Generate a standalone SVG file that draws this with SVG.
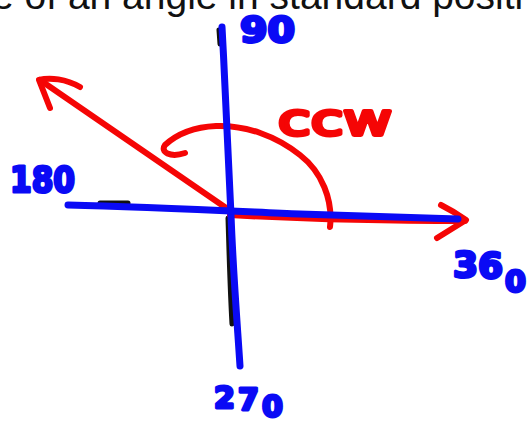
<svg xmlns="http://www.w3.org/2000/svg" width="531" height="425" viewBox="0 0 531 425">
<style>
.ink{fill:none;stroke-linecap:round;stroke-linejoin:round}
.blue{stroke:#0a0af5;stroke-width:7}
.red{stroke:#f50505;stroke-width:6}
.blk{stroke:#111;stroke-width:5}
.hb{font-family:"DejaVu Sans",sans-serif;font-weight:bold;fill:#0a0af5;stroke:#0a0af5;stroke-width:3;stroke-linejoin:round}
.hr{font-family:"DejaVu Sans",sans-serif;font-weight:normal;fill:#f50505;stroke:#f50505;stroke-width:4;stroke-linejoin:round}
.title{font-family:"Liberation Sans",Arial,sans-serif;font-size:39px;fill:#111}
</style>
<rect width="531" height="425" fill="#fff"/>
<text class="title" x="-8" y="9">e of an angle in standard positi</text>
<g id="connectors">
<g id="black-strokes">
<path class="ink blk" d="M219,30 L220,44"/>
<path class="ink blk" d="M228,218 C229,250 230,290 232,324"/>
<path class="ink blk" d="M100,203 L128,203"/>
</g>
<g id="red-rays">
<path class="ink red" d="M230,215 C300,219 400,221 465,221"/>
<path class="ink red" d="M441,205 C451,210 459,215 466,220 L437,238"/>
<path class="ink red" d="M232,212 L40,80"/>
<path class="ink red" d="M80,87 C66,79 50,77 39,80 L50,108"/>
<path id="ccw-arc" class="ink red" d="M330,227 C333,200 322,172 300,155 C276,136 246,125 216,126 C196,127 178,133 165,145 C160,152 170,158 185,153"/>
</g>
<g id="axes">
<path class="ink blue" d="M222,27 C226,100 229,180 231,215 C233,270 237,320 240,366"/>
<path class="ink blue" d="M68,205 C150,207 230,211 300,214 C380,217 420,218 458,219"/>
</g>
</g>
<g id="label-90"><text class="hb" x="240" y="42" font-size="35" textLength="55" lengthAdjust="spacingAndGlyphs">90</text></g>
<g id="label-180"><text class="hb" x="10" y="192" font-size="36" textLength="65" lengthAdjust="spacingAndGlyphs">180</text></g>
<g id="label-360"><text class="hb" font-size="36"><tspan x="453" y="277">3</tspan><tspan x="478" y="278">6</tspan><tspan x="505" y="292" font-size="30">0</tspan></text></g>
<g id="label-270"><text class="hb" font-size="30"><tspan x="214" y="408">2</tspan><tspan x="238" y="410">7</tspan><tspan x="262" y="417">0</tspan></text></g>
<g id="label-ccw"><text class="hr" x="278" y="135" font-size="44" textLength="114" lengthAdjust="spacingAndGlyphs">ccw</text></g>
</svg>
